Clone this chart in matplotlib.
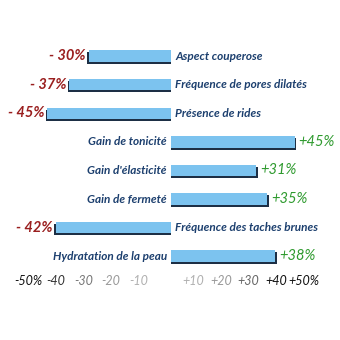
import matplotlib.pyplot as plt

categories = ["Aspect couperose", "Fréquence de pores dilatés", "Présence de rides",
              "Gain de tonicité", "Gain d'élasticité", "Gain de fermeté",
              "Fréquence des taches brunes", "Hydratation de la peau"]
values = [-30, -37, -45, 45, 31, 35, -42, 38]
tick_values = [-50, -40, -30, -20, -10, 10, 20, 30, 40, 50]
tick_labels = ["-50%", "-40", "-30", "-20", "-10", "+10", "+20", "+30", "+40", "+50%"]
tick_colors = ["#111111", "#333333", "#777777", "#999999", "#b0b0b0",
               "#b0b0b0", "#999999", "#666666", "#111111", "#111111"]

navy = "#1c3f6e"
bar_blue = "#7cc3ef"
red = "#9a1f1f"
green = "#2e9a2e"
font = "Lato"

fig = plt.figure(figsize=(3.4, 3.4), dpi=100)
ax = fig.add_axes([0, 0, 1, 1])
ax.set_xlim(-62.2, 61.5)
ax.set_ylim(9.93, -1.96)
ax.axis("off")

h = 0.40
for i, (cat, v) in enumerate(zip(categories, values)):
    # dark drop shadow under each bar
    ax.barh(i + 0.07, v + (0.6 if v > 0 else -0.6), height=h, color="#1d2f45",
            left=0, zorder=1)
    ax.barh(i, v, height=h, color=bar_blue, zorder=2)
    if v < 0:
        ax.text(1.5, i, cat, ha="left", va="center", color=navy, fontsize=8.5,
                fontweight="bold", fontstyle="italic", family=font)
        ax.text(v - 1.0, i, "- %d%%" % abs(v), ha="right", va="center", color=red,
                fontsize=10.5, fontweight="bold", fontstyle="italic", family=font)
    else:
        ax.text(-1.5, i, cat, ha="right", va="center", color=navy, fontsize=8.5,
                fontweight="bold", fontstyle="italic", family=font)
        ax.text(v + 1.4, i, "+%d%%" % v, ha="left", va="center", color=green,
                fontsize=10.5, fontstyle="italic", family=font)

for tv, tl, tc in zip(tick_values, tick_labels, tick_colors):
    ax.text(tv - 1.8, 7.85, tl, ha="center", va="center", color=tc, fontsize=9,
            fontstyle="italic", family=font)

fig.savefig("out.png", dpi=100)
